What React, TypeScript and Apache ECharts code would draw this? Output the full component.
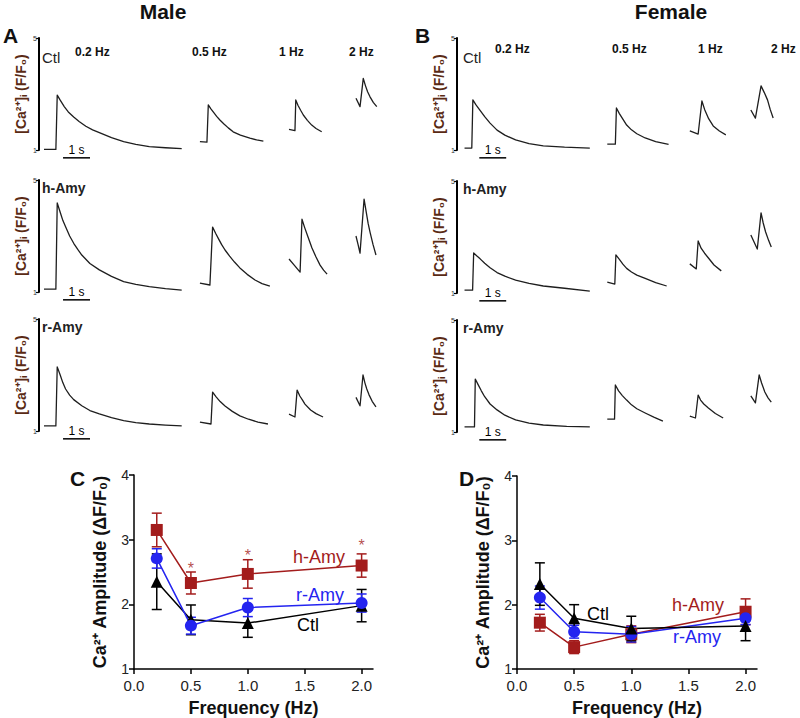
import React, { useEffect, useRef } from "react";
import * as echarts from "echarts";

// ---------- Summary data (panels C & D) ----------
const freqs = [0.2, 0.5, 1.0, 2.0];
const maleCtlMean = [2.35, 1.76, 1.71, 1.98];
const maleCtlSem = [0.43, 0.23, 0.22, 0.25];
const maleHAmyMean = [3.15, 2.33, 2.47, 2.6];
const maleHAmySem = [0.26, 0.17, 0.22, 0.18];
const maleRAmyMean = [2.71, 1.67, 1.95, 2.02];
const maleRAmySem = [0.15, 0.13, 0.14, 0.14];
const femaleCtlMean = [2.32, 1.79, 1.63, 1.67];
const femaleCtlSem = [0.33, 0.21, 0.19, 0.23];
const femaleHAmyMean = [1.72, 1.34, 1.54, 1.89];
const femaleHAmySem = [0.13, 0.1, 0.13, 0.2];
const femaleRAmyMean = [2.11, 1.58, 1.54, 1.79];
const femaleRAmySem = [0.18, 0.1, 0.12, 0.1];
const maleStarFreqs = [0.5, 1.0, 2.0];
const maleStarLevels = [2.56, 2.75, 2.91];
const freqTicks = ["0.2 Hz", "0.5 Hz", "1 Hz", "2 Hz"];

// ---------- Ca2+ transient traces: [time (s) from trace start, F/F0] ----------
const mCtl02 = [[0, 1.02], [0.44, 1.02], [0.49, 2.96], [0.6, 2.78], [0.75, 2.55], [0.9, 2.36], [1.1, 2.18], [1.3, 2.02], [1.55, 1.85], [1.8, 1.72], [2.05, 1.62], [2.5, 1.44], [2.95, 1.3], [3.4, 1.2], [3.9, 1.12], [4.5, 1.08], [5.1, 1.05]];
const mCtl05 = [[0, 1.3], [0.26, 1.28], [0.31, 2.61], [0.4, 2.48], [0.5, 2.35], [0.62, 2.2], [0.74, 2.07], [0.9, 1.92], [1.05, 1.79], [1.23, 1.65], [1.5, 1.53], [1.85, 1.42], [2.1, 1.36], [2.35, 1.32]];
const mCtl1 = [[0, 1.74], [0.22, 1.69], [0.25, 2.79], [0.33, 2.6], [0.43, 2.42], [0.53, 2.25], [0.68, 2.06], [0.84, 1.89], [1.0, 1.77], [1.21, 1.65]];
const mCtl2 = [[0, 2.85], [0.15, 2.55], [0.27, 3.56], [0.35, 3.3], [0.43, 3.08], [0.52, 2.9], [0.64, 2.7], [0.77, 2.55]];
const mH02 = [[0, 1.1], [0.44, 1.1], [0.49, 4.18], [0.6, 3.85], [0.7, 3.55], [0.8, 3.33], [0.95, 3.0], [1.1, 2.74], [1.25, 2.52], [1.4, 2.32], [1.7, 2.02], [2.05, 1.79], [2.5, 1.56], [2.95, 1.37], [3.4, 1.27], [3.9, 1.19], [4.5, 1.12], [5.1, 1.07]];
const mH05 = [[0, 1.32], [0.37, 1.25], [0.47, 3.32], [0.58, 3.1], [0.7, 2.88], [0.8, 2.7], [0.93, 2.5], [1.1, 2.28], [1.28, 2.07], [1.48, 1.86], [1.75, 1.63], [2.04, 1.43], [2.3, 1.3], [2.59, 1.21]];
const mH1 = [[0, 2.18], [0.2, 1.95], [0.41, 1.71], [0.48, 3.6], [0.58, 3.3], [0.7, 2.97], [0.85, 2.57], [1.0, 2.25], [1.15, 1.96], [1.28, 1.78], [1.41, 1.64]];
const mH2 = [[0, 3.0], [0.08, 2.68], [0.15, 2.39], [0.3, 4.32], [0.38, 3.85], [0.45, 3.45], [0.52, 3.14], [0.63, 2.7], [0.74, 2.32]];
const mR02 = [[0, 1.18], [0.44, 1.18], [0.49, 3.29], [0.6, 3.0], [0.7, 2.72], [0.8, 2.5], [0.95, 2.28], [1.1, 2.12], [1.4, 1.9], [1.7, 1.73], [2.05, 1.61], [2.5, 1.48], [2.95, 1.37], [3.4, 1.3], [3.9, 1.25], [4.5, 1.21], [5.1, 1.18]];
const mR05 = [[0, 1.32], [0.41, 1.25], [0.47, 2.39], [0.6, 2.22], [0.75, 2.05], [0.93, 1.89], [1.2, 1.7], [1.48, 1.54], [1.8, 1.42], [2.15, 1.32], [2.52, 1.25]];
const mR1 = [[0, 1.6], [0.22, 1.5], [0.3, 2.46], [0.4, 2.25], [0.5, 2.1], [0.59, 1.96], [0.8, 1.75], [1.0, 1.62], [1.26, 1.5]];
const mR2 = [[0, 2.2], [0.15, 1.9], [0.26, 3.0], [0.33, 2.72], [0.4, 2.5], [0.48, 2.3], [0.6, 2.06], [0.74, 1.86]];
const fCtl02 = [[0, 1.07], [0.27, 1.07], [0.31, 2.79], [0.42, 2.62], [0.55, 2.45], [0.75, 2.19], [0.95, 1.96], [1.21, 1.71], [1.5, 1.53], [1.9, 1.36], [2.4, 1.23], [2.93, 1.15], [3.72, 1.1], [4.66, 1.07]];
const fCtl05 = [[0, 1.21], [0.3, 1.21], [0.34, 2.5], [0.45, 2.3], [0.58, 2.1], [0.72, 1.89], [0.9, 1.72], [1.1, 1.58], [1.41, 1.43], [1.8, 1.3], [2.28, 1.2]];
const fCtl1 = [[0, 1.68], [0.31, 1.57], [0.45, 2.75], [0.55, 2.45], [0.7, 2.12], [0.87, 1.86], [1.1, 1.68], [1.34, 1.54]];
const fCtl2 = [[0, 2.43], [0.17, 2.14], [0.38, 3.29], [0.5, 3.05], [0.62, 2.79], [0.72, 2.45], [0.83, 2.14]];
const fH02 = [[0, 1.1], [0.3, 1.1], [0.34, 2.43], [0.45, 2.33], [0.58, 2.22], [0.75, 2.06], [0.95, 1.9], [1.21, 1.73], [1.5, 1.6], [1.9, 1.46], [2.4, 1.34], [2.93, 1.25], [3.72, 1.17], [4.66, 1.07]];
const fH05 = [[0, 1.39], [0.28, 1.32], [0.32, 2.36], [0.45, 2.2], [0.58, 2.03], [0.72, 1.88], [0.9, 1.75], [1.1, 1.64], [1.41, 1.52], [1.8, 1.37], [2.21, 1.25]];
const fH1 = [[0, 2.04], [0.24, 1.86], [0.31, 2.86], [0.42, 2.6], [0.55, 2.42], [0.7, 2.24], [0.9, 2.0], [1.17, 1.79]];
const fH2 = [[0, 3.07], [0.24, 2.57], [0.38, 3.86], [0.46, 3.5], [0.55, 3.18], [0.66, 2.88], [0.76, 2.64]];
const fR02 = [[0, 1.18], [0.37, 1.18], [0.4, 2.89], [0.5, 2.7], [0.62, 2.48], [0.75, 2.26], [0.95, 2.0], [1.21, 1.79], [1.5, 1.6], [1.9, 1.43], [2.4, 1.32], [2.93, 1.25], [3.8, 1.2], [4.66, 1.18]];
const fR05 = [[0, 1.46], [0.27, 1.46], [0.3, 2.68], [0.42, 2.47], [0.56, 2.3], [0.72, 2.14], [0.9, 1.97], [1.1, 1.83], [1.41, 1.68], [1.75, 1.52], [2.07, 1.39]];
const fR1 = [[0, 1.57], [0.21, 1.5], [0.31, 2.32], [0.4, 2.14], [0.52, 2.0], [0.69, 1.86], [0.95, 1.66], [1.24, 1.5]];
const fR2 = [[0, 2.29], [0.17, 2.04], [0.31, 3.04], [0.4, 2.75], [0.52, 2.43], [0.64, 2.22], [0.76, 2.07]];

const traceGroupLabels = ["Ctl", "h-Amy", "r-Amy"];
const maleTraces = [[mCtl02, mCtl05, mCtl1, mCtl2], [mH02, mH05, mH1, mH2], [mR02, mR05, mR1, mR2]];
const femaleTraces = [[fCtl02, fCtl05, fCtl1, fCtl2], [fH02, fH05, fH1, fH2], [fR02, fR05, fR1, fR2]];

// ---------- layout constants ----------
const FONT = "'Liberation Sans', Arial, Helvetica, sans-serif";
const RED = "#a31c1c";
const BLUE = "#2424f0";
const BLACK = "#000000";
const BROWN = "#5a2a14";
const TRACE_COLOR = "#1e1e1e";

const sexes = [
  { left: 39, width: 351, pxps: 27, tops: [38, 180, 319], starts: [0.185, 5.96, 9.26, 11.74], bar: [0.89, 1.89], traces: maleTraces },
  { left: 457, width: 370, pxps: 29, tops: [38, 181, 320], starts: [0.28, 5.59, 8.66, 10.93], bar: [0.83, 1.83], traces: femaleTraces },
];
const BAR_LEVEL = 0.72;

const text = (t: string, x: number, y: number, size: number, weight: string, color: string, align = "left") => ({
  type: "text",
  x,
  y,
  silent: true,
  style: { text: t, fill: color, font: `${weight} ${size}px ${FONT}`, align, verticalAlign: "middle" },
});

function buildOption() {
  const grid: any[] = [];
  const xAxis: any[] = [];
  const yAxis: any[] = [];
  const series: any[] = [];
  const graphic: any[] = [];
  const barGrids: { gi: number; mid: number }[] = [];

  // Trace panels
  sexes.forEach((sx, si) => {
    sx.tops.forEach((top, ri) => {
      const gi = grid.length;
      grid.push({ left: sx.left, top, width: sx.width, height: 112 });
      xAxis.push({ gridIndex: gi, type: "value", min: 0, max: sx.width / sx.pxps, show: false });
      yAxis.push({
        gridIndex: gi,
        type: "value",
        min: 1,
        max: 5,
        interval: 4,
        axisLine: { show: true, lineStyle: { color: "#000", width: 2 } },
        axisTick: { show: true, length: 3, lineStyle: { color: "#000", width: 1.2 } },
        axisLabel: { fontSize: 7, margin: 2, color: "#333", fontFamily: FONT },
        splitLine: { show: false },
        name: "[Ca²⁺]ᵢ (F/F₀)",
        nameLocation: "middle",
        nameGap: 11,
        nameRotate: 90,
        nameTextStyle: { color: BROWN, fontSize: 14, fontWeight: "bold", fontFamily: FONT },
      });
      sx.traces[ri].forEach((tr, k) => {
        series.push({
          type: "line",
          xAxisIndex: gi,
          yAxisIndex: gi,
          data: tr.map((p) => [p[0] + sx.starts[k], p[1]]),
          showSymbol: false,
          symbol: "none",
          smooth: false,
          clip: false,
          silent: true,
          lineStyle: { color: TRACE_COLOR, width: 1.3, join: "round" },
        });
      });
      // 1 s scale bar
      series.push({
        type: "line",
        xAxisIndex: gi,
        yAxisIndex: gi,
        data: [[sx.bar[0], BAR_LEVEL], [sx.bar[1], BAR_LEVEL]],
        symbol: "none",
        clip: false,
        silent: true,
        lineStyle: { color: "#000", width: 1.5 },
      });
      barGrids.push({ gi, mid: (sx.bar[0] + sx.bar[1]) / 2 });
      // group label
      const lx = sx.left + (si === 0 ? 3 : 6);
      const ly = top + (ri === 0 ? 19 : 8);
      graphic.push(text(traceGroupLabels[ri], lx, ly, ri === 0 ? 15 : 14, ri === 0 ? "normal" : "bold", "#222"));
    });
  });

  // Frequency labels
  const maleHzX = [75, 192, 279, 349];
  const femaleHzX = [495, 612, 698, 771];
  freqTicks.forEach((f, i) => {
    graphic.push(text(f, maleHzX[i], 52, 12, "bold", "#111"));
    graphic.push(text(f, femaleHzX[i], 49, 12, "bold", "#111"));
  });

  graphic.push(text("Male", 163, 11, 21, "bold", "#111", "center"));
  graphic.push(text("Female", 671, 11, 21, "bold", "#111", "center"));
  graphic.push(text("A", 3, 35, 21, "bold", "#111"));
  graphic.push(text("B", 415, 35, 21, "bold", "#111"));
  graphic.push(text("C", 70, 478, 21, "bold", "#111"));
  graphic.push(text("D", 459, 478, 21, "bold", "#111"));

  // Summary panels
  const summary = [
    {
      grid: { left: 134, top: 475, width: 239, height: 194 },
      groups: [
        { mean: maleCtlMean, sem: maleCtlSem, color: BLACK, symbol: "triangle" },
        { mean: maleRAmyMean, sem: maleRAmySem, color: BLUE, symbol: "circle" },
        { mean: maleHAmyMean, sem: maleHAmySem, color: RED, symbol: "rect" },
      ],
      labels: [["h-Amy", 293, 557, RED], ["r-Amy", 296, 595, BLUE], ["Ctl", 297, 625, BLACK]],
      stars: true,
    },
    {
      grid: { left: 517, top: 476, width: 240, height: 193 },
      groups: [
        { mean: femaleHAmyMean, sem: femaleHAmySem, color: RED, symbol: "rect" },
        { mean: femaleRAmyMean, sem: femaleRAmySem, color: BLUE, symbol: "circle" },
        { mean: femaleCtlMean, sem: femaleCtlSem, color: BLACK, symbol: "triangle" },
      ],
      labels: [["h-Amy", 672, 605, RED], ["Ctl", 587, 614, BLACK], ["r-Amy", 673, 637, BLUE]],
      stars: false,
    },
  ];

  summary.forEach((p) => {
    const gi = grid.length;
    grid.push(p.grid);
    xAxis.push({
      gridIndex: gi,
      type: "value",
      min: 0,
      max: 2.1,
      interval: 0.5,
      axisLine: { show: true, lineStyle: { color: "#000", width: 1.5 } },
      axisTick: { show: true, length: 5, lineStyle: { color: "#000", width: 1.5 } },
      axisLabel: { fontSize: 15, color: "#222", margin: 9, fontFamily: FONT, formatter: (v: number) => v.toFixed(1), showMaxLabel: false },
      splitLine: { show: false },
      name: "Frequency (Hz)",
      nameLocation: "middle",
      nameGap: 30,
      nameTextStyle: { fontSize: 18, fontWeight: "bold", color: "#111", fontFamily: FONT },
    });
    yAxis.push({
      gridIndex: gi,
      type: "value",
      min: 1,
      max: 4,
      interval: 1,
      axisLine: { show: true, lineStyle: { color: "#000", width: 1.5 } },
      axisTick: { show: true, length: 5, lineStyle: { color: "#000", width: 1.5 } },
      axisLabel: { fontSize: 14, color: "#222", margin: 5, fontFamily: FONT },
      splitLine: { show: false },
      name: "Ca²⁺ Amplitude (ΔF/F₀)",
      nameLocation: "middle",
      nameGap: 25,
      nameRotate: 90,
      nameTextStyle: { fontSize: 18, fontWeight: "bold", color: "#111", fontFamily: FONT },
    });
    p.groups.forEach((g) => {
      series.push({
        type: "custom",
        xAxisIndex: gi,
        yAxisIndex: gi,
        silent: true,
        encode: { x: 0, y: [1, 2] },
        data: freqs.map((f, i) => [f, g.mean[i] - g.sem[i], g.mean[i] + g.sem[i]]),
        renderItem: (params: any, api: any) => {
          const x = api.value(0);
          const lo = api.coord([x, api.value(1)]);
          const hi = api.coord([x, api.value(2)]);
          const w = 5;
          const st = { stroke: g.color, lineWidth: 1.5 };
          return {
            type: "group",
            children: [
              { type: "line", shape: { x1: lo[0], y1: lo[1], x2: hi[0], y2: hi[1] }, style: st },
              { type: "line", shape: { x1: hi[0] - w, y1: hi[1], x2: hi[0] + w, y2: hi[1] }, style: st },
              { type: "line", shape: { x1: lo[0] - w, y1: lo[1], x2: lo[0] + w, y2: lo[1] }, style: st },
            ],
          };
        },
      });
      series.push({
        type: "line",
        xAxisIndex: gi,
        yAxisIndex: gi,
        silent: true,
        data: freqs.map((f, i) => [f, g.mean[i]]),
        symbol: g.symbol,
        symbolSize: 12,
        showSymbol: true,
        itemStyle: { color: g.color },
        lineStyle: { color: g.color, width: 1.5 },
      });
    });
    if (p.stars) {
      series.push({
        type: "scatter",
        xAxisIndex: gi,
        yAxisIndex: gi,
        silent: true,
        symbolSize: 0,
        itemStyle: { color: RED },
        data: maleStarFreqs.map((f, i) => [f, maleStarLevels[i]]),
        label: { show: true, formatter: "*", position: "inside", fontSize: 16, color: RED, fontFamily: FONT },
      });
    }
    p.labels.forEach((l: any) => graphic.push(text(l[0], l[1], l[2], 18, "normal", l[3])));
  });

  return {
    option: {
      animation: false,
      backgroundColor: "#ffffff",
      textStyle: { fontFamily: FONT },
      grid,
      xAxis,
      yAxis,
      series,
      graphic,
    },
    graphic,
    barGrids,
  };
}

export default function App() {
  const ref = useRef<HTMLDivElement>(null);
  useEffect(() => {
    document.body.style.margin = "0";
    if (!ref.current) return;
    const chart = echarts.init(ref.current, null, { renderer: "svg" });
    const built = buildOption();
    chart.setOption(built.option as any);
    // "1 s" scale-bar captions positioned from the bars' data coordinates
    const extra = built.barGrids.map((b) => {
      const pt = chart.convertToPixel({ gridIndex: b.gi } as any, [b.mid, BAR_LEVEL]) as number[];
      return text("1 s", pt[0], pt[1] - 8, 12, "normal", "#000", "center");
    });
    chart.setOption({ graphic: [...built.graphic, ...extra] } as any);
    return () => chart.dispose();
  }, []);
  return <div ref={ref} style={{ width: 800, height: 718 }} />;
}
